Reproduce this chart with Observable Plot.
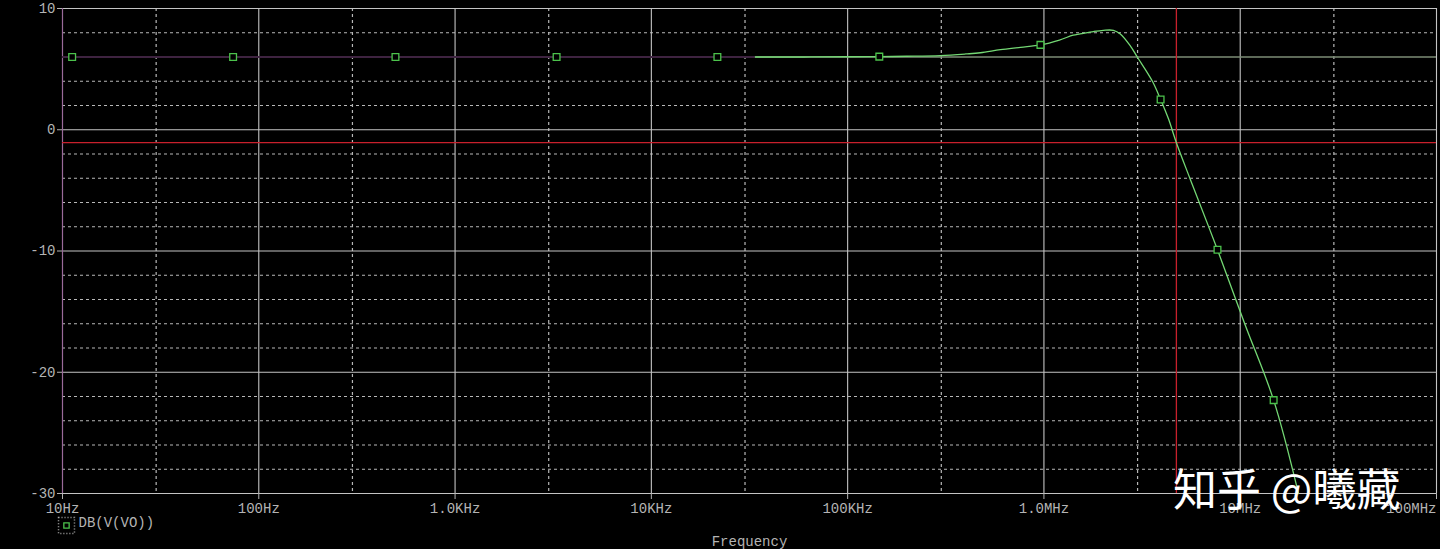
<!DOCTYPE html>
<html><head><meta charset="utf-8">
<script src="https://cdn.jsdelivr.net/npm/d3@7"></script>
<script src="https://cdn.jsdelivr.net/npm/@observablehq/plot@0.6"></script>
<style>html,body{margin:0;padding:0;background:#000;overflow:hidden}</style>
</head><body><div id="chart"></div>
<script>
// ---- data ----
const xDecades = [10, 100, 1e3, 1e4, 1e5, 1e6, 1e7, 1e8];
const xLabels = ["10Hz", "100Hz", "1.0KHz", "10KHz", "100KHz", "1.0MHz", "10MHz", "100MHz"];
const xMinor = [30, 300, 3e3, 3e4, 3e5, 3e6, 3e7];
const yMajor = [10, 0, -10, -20, -30];
const yMinor = [8, 4, 2, -2, -4, -6, -8, -12, -14, -16, -18, -22, -24, -26, -28];

const curveFreq = [33.9e3, 60e3, 100e3, 145e3, 200e3, 297e3, 400e3, 475e3, 600e3, 760e3, 960e3, 1.2e6, 1.41e6, 1.53e6, 1.79e6, 2.01e6, 2.26e6, 2.45e6, 2.76e6, 2.99e6, 3.57e6, 3.93e6, 4.31e6, 4.73e6, 5.57e6, 7.66e6, 10.6e6, 14.8e6, 19.8e6];
const curveDb   = [6.0, 6.0, 6.02, 6.03, 6.06, 6.12, 6.25, 6.35, 6.6, 6.8, 7.0, 7.4, 7.8, 7.9, 8.1, 8.2, 8.2, 7.9, 6.9, 6.0, 4.0, 2.5, 0.9, -1.07, -4.1, -9.9, -16.1, -22.3, -30];

const markerFreq = [11.2, 74, 497, 3290, 21700, 145e3, 960e3, 3.93e6, 7.66e6, 14.8e6];
const markerDb   = [6, 6, 6, 6, 6, 6.03, 7.0, 2.5, -9.9, -22.3];

const refLevel = 6;
const refSplit = 33.9e3;
const cursorFreq = 4.73e6;
const cursorDb = -1.07;
const seriesName = "DB(V(VO))";
const xTitle = "Frequency";
const watermark = "知乎 @曦藏";

// ---- build ----
const curve = curveFreq.map((f, i) => ({f, db: curveDb[i]}));
const markers = markerFreq.map((f, i) => ({f, db: markerDb[i]}));
const xTicks = xDecades.map((f, i) => ({f, label: xLabels[i]}));

const mono = "'Liberation Mono', 'DejaVu Sans Mono', monospace";
const gridSolid = "#c4c4c4";
const gridDash = "#b8b8b8";
const green = "#74d874";
const textGray = "#b4b4b4";

const chart = Plot.plot({
  width: 1440, height: 549,
  marginLeft: 62, marginRight: 4, marginTop: 8, marginBottom: 56,
  x: {type: "log", domain: [10, 1e8]},
  y: {domain: [-30, 10]},
  style: {background: "#000", color: textGray, fontFamily: mono, fontSize: "14px"},
  marks: [
    Plot.ruleX(xMinor, {stroke: gridDash, strokeDasharray: "3,3", strokeWidth: 1.2}),
    Plot.ruleY(yMinor, {stroke: gridDash, strokeDasharray: "3,3", strokeWidth: 1.2}),
    Plot.ruleX(xDecades.slice(1), {stroke: gridSolid, strokeWidth: 1.1}),
    Plot.ruleY(yMajor, {stroke: gridSolid, strokeWidth: 1.1}),
    Plot.ruleX([xDecades[0]], {stroke: "#9a6a9a", strokeWidth: 1.2}),
    Plot.ruleY([refLevel], {x1: xDecades[0], x2: refSplit, stroke: "#3e2340", strokeWidth: 2}),
    Plot.ruleY([refLevel], {x1: refSplit, x2: xDecades[xDecades.length - 1], stroke: "#7d8c76", strokeWidth: 1.6}),
    Plot.ruleX([cursorFreq], {stroke: "#c8202c", strokeWidth: 1.3}),
    Plot.ruleY([cursorDb], {stroke: "#c8202c", strokeWidth: 1.3}),
    Plot.line(curve, {x: "f", y: "db", stroke: green, strokeWidth: 1.3, curve: "catmull-rom"}),
    Plot.dot(markers, {x: "f", y: "db", symbol: "square", r: 3.8, stroke: "#4cc24c", fill: "#000", strokeWidth: 1.3}),
    Plot.axisY({ticks: yMajor, tickSize: 5, tickPadding: 2, label: null, tickFormat: d => String(d)}),
    Plot.axisX({ticks: xDecades, tickSize: 6, tickFormat: () => "", label: null}),
    Plot.text(xTicks.slice(0, -1), {x: "f", text: "label", frameAnchor: "bottom", dy: 19, fill: textGray}),
    Plot.text(xTicks.slice(-1), {x: "f", text: "label", frameAnchor: "bottom", dy: 19, textAnchor: "end", fill: textGray}),
    Plot.text([xTitle], {text: d => d, frameAnchor: "bottom", dy: 52, fill: textGray}),
    Plot.dot([seriesName], {frameAnchor: "bottom-left", dx: 4, dy: 32, symbol: "square", r: 9, stroke: "#aaaaaa", strokeDasharray: "1,2", fill: "none"}),
    Plot.dot([seriesName], {frameAnchor: "bottom-left", dx: 4, dy: 32, symbol: "square", r: 3, stroke: "#4cc24c", fill: "none", strokeWidth: 1.3}),
    Plot.text([seriesName], {text: d => d, frameAnchor: "bottom-left", dx: 16, dy: 33, textAnchor: "start", fill: textGray}),
    Plot.text([watermark], {text: d => d, frameAnchor: "bottom-right", dx: -36, dy: 12, textAnchor: "end", fill: "#ffffff", fontSize: 44, fontFamily: "'Noto Sans CJK SC', sans-serif"})
  ]
});
document.getElementById("chart").appendChild(chart);
</script>
</body></html>
